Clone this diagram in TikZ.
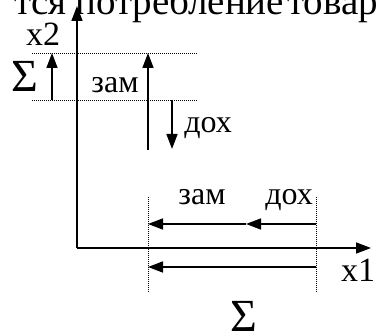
\documentclass[tikz,border=0pt]{standalone}
\usepackage{fontspec}
\setmainfont{Liberation Serif}
\usetikzlibrary{arrows.meta}
\begin{document}
\begin{tikzpicture}[x=1pt,y=-1pt,
  axisline/.style={line width=1.6pt,-{Triangle[length=15pt,width=11pt]}},
  vec/.style={line width=1.6pt,-{Triangle[length=15pt,width=11pt]}},
  guide/.style={line width=0.9pt,dash pattern=on 1pt off 1pt},
  lbl/.style={font=\fontsize{32}{32}\selectfont,inner sep=0pt,anchor=base},
  axlbl/.style={font=\fontsize{34}{34}\selectfont,inner sep=0pt,anchor=base},
  sig/.style={font=\fontsize{46}{46}\selectfont,inner sep=0pt,anchor=base},
  toptext/.style={font=\fontsize{39}{39}\selectfont,inner sep=0pt}]
\useasboundingbox (0,0) rectangle (377,336);
\clip (0,0) rectangle (377,336);
% top cut-off text
\node[toptext,anchor=base east] (t1) at (67,15) {тся};
\node[toptext,anchor=base west] (t2) at (75,15) {потребление};
\node[toptext,anchor=base west] (t3) at (287,15) {товар};
% axes
\coordinate (O) at (77,248);
\coordinate (Ytop) at (77,6);
\coordinate (Xend) at (371,248);
\draw[axisline] (O) -- (Ytop);
\draw[axisline] (O) -- (Xend);
\node[axlbl] (x2) at (43,46) {x2};
\node[axlbl] (x1) at (358,282) {x1};
% horizontal guides
\coordinate (g1a) at (32,53); \coordinate (g1b) at (197,53);
\coordinate (g2a) at (32,100); \coordinate (g2b) at (197,100);
\draw[guide] (g1a) -- (g1b);
\draw[guide] (g2a) -- (g2b);
% left sigma arrow
\coordinate (s1) at (52,100); \coordinate (s2) at (52,53);
\draw[vec] (s1) -- (s2);
\node[sig] (sigL) at (25,92) {Σ};
% zam vertical
\coordinate (z1) at (148,150); \coordinate (z2) at (148,53);
\draw[vec] (z1) -- (z2);
\node[lbl] (zamV) at (115,93) {зам};
% dokh vertical
\coordinate (d1) at (172,100); \coordinate (d2) at (172,149);
\draw[vec] (d1) -- (d2);
\node[lbl] (dohV) at (208,133) {дох};
% vertical guides
\coordinate (v1a) at (148,197); \coordinate (v1b) at (148,292);
\coordinate (v2a) at (316,197); \coordinate (v2b) at (316,292);
\draw[guide] (v1a) -- (v1b);
\draw[guide] (v2a) -- (v2b);
% horizontal vectors
\coordinate (h1) at (316,224); \coordinate (hm) at (246,224); \coordinate (h2) at (148,224);
\draw[vec] (h1) -- (hm);
\draw[vec] (hm) -- (h2);
\node[lbl] (zamH) at (202,205) {зам};
\node[lbl] (dohH) at (289,205) {дох};
\coordinate (k1) at (316,267); \coordinate (k2) at (148,267);
\draw[vec] (k1) -- (k2);
\node[sig] (sigB) at (244,331) {Σ};
\end{tikzpicture}
\end{document}
